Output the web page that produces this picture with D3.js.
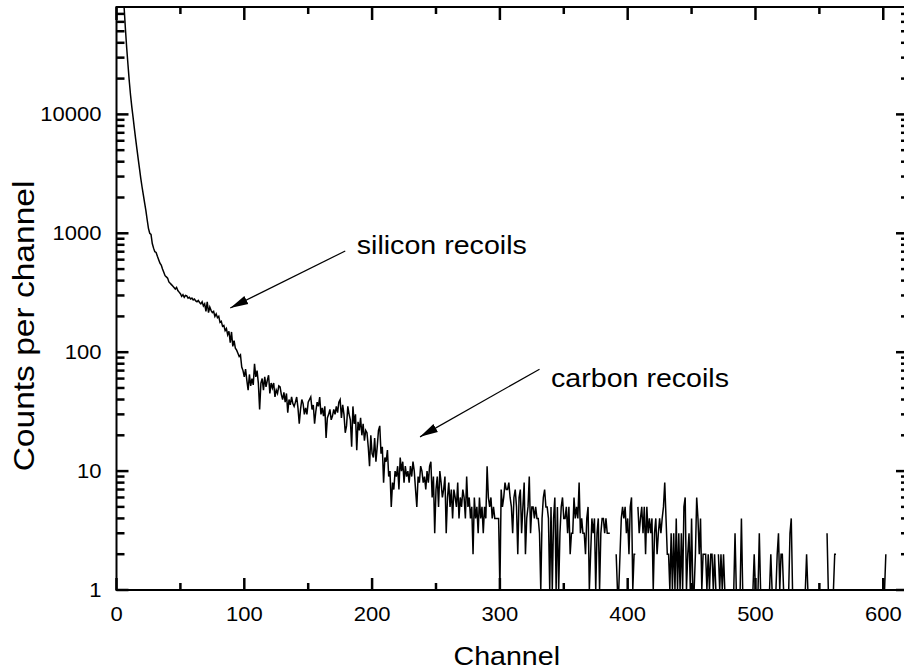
<!DOCTYPE html>
<html>
<head>
<meta charset="utf-8">
<script src="https://cdn.jsdelivr.net/npm/d3@7"></script>
<style>
  body { margin: 0; background: #fff; }
  text { font-family: "Liberation Sans", Arial, Helvetica, sans-serif; fill: #000; }
</style>
</head>
<body>
<svg id="chart" width="904" height="670"></svg>
<script>
// counts per channel, first entry is channel 5 (0 = empty channel)
var firstChannel = 5;
var counts = [
  95000, 78000, 52000, 36000, 26000,
  19000, 14500, 11500, 9400, 7600, 6200, 5100, 4200, 3500, 2900,   // 10
  2450, 2100, 1800, 1550, 1300, 1100, 1000, 980, 820, 750,          // 20
  700, 690, 640, 600, 560, 540, 500, 470, 440, 430,                 // 30
  420, 390, 380, 370, 360, 350, 340, 350, 330, 320,                 // 40
  310, 295, 305, 290, 300, 298, 285, 290, 280, 285,                 // 50
  275, 280, 270, 265, 272, 262, 255, 265, 245, 255,                 // 60
  220, 265, 215, 240, 225, 215, 220, 200, 210, 195,                 // 70
  200, 178, 182, 165, 168, 152, 158, 140, 150, 120,                 // 80
  148, 112, 125, 108, 104, 98, 92, 95, 75, 70,                      // 90
  62, 72, 58, 48, 65, 52, 60, 53, 80, 62,                           // 100
  70, 55, 33, 55, 60, 48, 62, 51, 58, 64,                           // 110
  45, 55, 50, 55, 42, 48, 45, 52, 51, 44,                           // 120
  40, 46, 38, 45, 31, 40, 36, 42, 37, 35,                           // 130
  38, 42, 34, 25, 33, 40, 37, 30, 34, 30,                           // 140
  38, 40, 42, 33, 36, 25, 32, 38, 35, 42,                           // 150
  30, 34, 29, 35, 19, 28, 30, 33, 27, 29,                           // 160
  33, 30, 35, 31, 38, 40, 28, 36, 30, 21,                           // 170
  24, 35, 30, 27, 16, 35, 25, 30, 15, 26,                           // 180
  22, 28, 20, 25, 18, 22, 21, 16, 11, 20,                           // 190
  14, 13, 19, 12, 16, 22, 24, 14, 16, 8,                            // 200
  13, 12, 15, 9, 10, 5, 8, 7, 10, 9,                                // 210
  11, 7, 13, 10, 12, 8, 11, 9, 10, 8,                               // 220
  11, 9, 12, 10, 7, 5, 9, 8, 11, 10,                                // 230
  8, 9, 7, 10, 8, 11, 12, 6, 9, 3,                                  // 240
  7, 9, 5, 10, 8, 6, 7, 9, 3, 6,                                    // 250
  8, 5, 7, 4, 7, 6, 5, 8, 4, 6,                                     // 260
  5, 7, 6, 4, 9, 5, 6, 4, 5, 2,                                     // 270
  6, 4, 5, 3, 6, 4, 5, 3, 5, 4,                                     // 280
  11, 6, 5, 6, 4, 5, 4, 4, 4, 4,                                    // 290
  1, 7, 5, 6, 8, 7, 7, 8, 6, 5,                                     // 300
  3, 6, 7, 5, 2, 6, 7, 3, 5, 8,                                     // 310
  2, 4, 5, 9, 3, 5, 5, 4, 5, 4,                                     // 320
  4, 3, 1, 4, 6, 7, 5, 5, 4, 1,                                     // 330
  5, 1, 4, 6, 1, 5, 1, 3, 5, 6,                                     // 340
  4, 4, 5, 3, 5, 2, 3, 3, 6, 4,                                     // 350
  5, 4, 8, 3, 4, 3, 3, 2, 4, 5,                                     // 360
  1, 2, 4, 3, 4, 1, 3, 4, 1, 3,                                     // 370
  4, 4, 3, 4, 3, 3, 3, 0, 0, 0,                                     // 380
  0, 2, 1, 1, 2, 4, 5, 4, 5, 3,                                     // 390
  4, 2, 5, 6, 1, 2, 2, 0, 5, 3,                                     // 400
  4, 5, 3, 5, 2, 5, 3, 4, 3, 4,                                     // 410
  1, 3, 4, 2, 3, 4, 3, 4, 5, 8,                                     // 420
  4, 2, 2, 1, 3, 1, 3, 1, 4, 1,                                     // 430
  3, 1, 3, 1, 5, 6, 1, 2, 3, 1,                                     // 440
  4, 1, 1, 2, 6, 4, 2, 4, 1, 2,                                     // 450
  2, 2, 1, 2, 1, 2, 2, 1, 2, 1,                                     // 460
  0, 2, 1, 2, 1, 2, 1, 0, 0, 0,                                     // 470
  0, 0, 0, 1, 3, 1, 0, 0, 1, 4,                                     // 480
  1, 0, 0, 0, 0, 0, 0, 0, 1, 2,                                     // 490
  1, 0, 1, 3, 1, 0, 0, 0, 0, 0,                                     // 500
  0, 1, 2, 1, 0, 0, 1, 2, 3, 1,                                     // 510
  2, 2, 1, 0, 0, 0, 1, 3, 4, 1,                                     // 520
  0, 0, 0, 0, 0, 0, 0, 0, 0, 1,                                     // 530
  2, 1, 0, 0, 0, 0, 0, 0, 0, 0,                                     // 540
  0, 0, 0, 0, 0, 0, 3, 1, 0, 0,                                     // 550
  0, 1, 2, 2, 0, 0, 0, 0, 0, 0,                                     // 560
  0, 0, 0, 0, 0, 0, 0, 0, 0, 0,                                     // 570
  0, 0, 0, 0, 0, 0, 0, 0, 0, 0,                                     // 580
  0, 0, 0, 0, 0, 0, 0, 0, 0, 0,                                     // 590
  0, 1, 2, 0                                                        // 600
];

var xTicks = [0, 100, 200, 300, 400, 500, 600];
var xMinorTicks = [50, 150, 250, 350, 450, 550];
var yTicks = [1, 10, 100, 1000, 10000];

var xTitle = "Channel";
var yTitle = "Counts per channel";

var notes = [
  { text: "silicon recoils", tx: 188, ty: 670, fromCh: 179, fromN: 710, toCh: 89, toN: 235 },
  { text: "carbon recoils", tx: 340, ty: 51, fromCh: 331, fromN: 72, toCh: 237.5, toN: 19.4 }
];

var data = counts.map(function (c, i) {
  return { ch: firstChannel + i, n: c };
});

var svg = d3.select("#chart");
var width = +svg.attr("width");
var height = +svg.attr("height");

var x = d3.scaleLinear().domain([0, 617]).range([116.5, width + 1]);
var y = d3.scaleLog().domain([1, 80000]).range([height - 80, 7]);

var x0 = x.range()[0], x1 = x.range()[1];
var y0 = y.range()[0], y1 = y.range()[1];

var yMinor = [];
yTicks.forEach(function (t) {
  for (var k = 2; k <= 9; k++) yMinor.push(t * k);
});
yMinor = yMinor.filter(function (v) { return v < 80000; });

// text in the source is slightly wider than tall
var sx = 1.1;

var line = d3.line()
  .defined(function (d) { return d.n > 0; })
  .x(function (d) { return x(d.ch); })
  .y(function (d) { return y(d.n); });

svg.append("clipPath")
  .attr("id", "clip")
  .append("rect")
  .attr("x", x0).attr("y", y1)
  .attr("width", x1 - x0).attr("height", y0 - y1);

svg.append("path")
  .datum(data)
  .attr("clip-path", "url(#clip)")
  .attr("fill", "none")
  .attr("stroke", "#000")
  .attr("stroke-width", 1.5)
  .attr("d", line);

// frame
svg.append("path")
  .attr("d", "M" + x0 + "," + y1 + "V" + y0 + "H" + x1 + "V" + y1 + "Z")
  .attr("fill", "none")
  .attr("stroke", "#000")
  .attr("stroke-width", 2);

// inward tick marks on all four sides
function ticks(values, cls, len, side) {
  svg.selectAll("line." + cls)
    .data(values)
    .enter()
    .append("line")
    .attr("class", cls)
    .attr("stroke", "#000")
    .attr("stroke-width", 2.5)
    .attr("x1", function (d) {
      if (side == "bottom" || side == "top") return x(d);
      return side == "left" ? x0 : x1;
    })
    .attr("x2", function (d) {
      if (side == "bottom" || side == "top") return x(d);
      return side == "left" ? x0 + len : x1 - len;
    })
    .attr("y1", function (d) {
      if (side == "left" || side == "right") return y(d);
      return side == "bottom" ? y0 : y1;
    })
    .attr("y2", function (d) {
      if (side == "left" || side == "right") return y(d);
      return side == "bottom" ? y0 - len : y1 + len;
    });
}

ticks(xTicks, "xb", 12, "bottom");
ticks(xMinorTicks, "xbm", 7, "bottom");
ticks(xTicks, "xt", 13, "top");
ticks(xMinorTicks, "xtm", 7, "top");
ticks(yTicks, "yl", 12, "left");
ticks(yMinor, "ylm", 8, "left");
ticks(yTicks, "yr", 9, "right");
ticks(yMinor, "yrm", 4, "right");

// tick labels
svg.selectAll("text.xlab")
  .data(xTicks)
  .enter()
  .append("text")
  .attr("class", "xlab")
  .attr("transform", function (d) {
    return "translate(" + x(d) + "," + (y0 + 31) + ") scale(" + sx + ",1)";
  })
  .attr("text-anchor", "middle")
  .style("font-size", "20px")
  .text(function (d) { return d; });

svg.selectAll("text.ylab")
  .data(yTicks)
  .enter()
  .append("text")
  .attr("class", "ylab")
  .attr("transform", function (d) {
    return "translate(" + (x0 - 15) + "," + (y(d) + 7) + ") scale(" + sx + ",1)";
  })
  .attr("text-anchor", "end")
  .style("font-size", "20px")
  .text(d3.format("d"));

// axis titles
svg.append("text")
  .attr("transform", "translate(" + ((x0 + x1) / 2 - 4) + ",665) scale(" + sx + ",1)")
  .attr("text-anchor", "middle")
  .style("font-size", "26px")
  .text(xTitle);

svg.append("text")
  .attr("transform", "translate(34,326) rotate(-90) scale(1.29," + sx + ")")
  .attr("text-anchor", "middle")
  .style("font-size", "26px")
  .text(yTitle);

// arrows
svg.append("defs").append("marker")
  .attr("id", "head")
  .attr("markerUnits", "userSpaceOnUse")
  .attr("viewBox", "0 -5 18 10")
  .attr("refX", 18).attr("refY", 0)
  .attr("markerWidth", 18).attr("markerHeight", 10)
  .attr("orient", "auto")
  .append("path")
  .attr("d", "M0,-4.5L18,0L0,4.5Z")
  .attr("fill", "#000");

svg.selectAll("line.note")
  .data(notes)
  .enter()
  .append("line")
  .attr("class", "note")
  .attr("x1", function (d) { return x(d.fromCh); })
  .attr("y1", function (d) { return y(d.fromN); })
  .attr("x2", function (d) { return x(d.toCh); })
  .attr("y2", function (d) { return y(d.toN); })
  .attr("stroke", "#000")
  .attr("stroke-width", 1.2)
  .attr("marker-end", "url(#head)");

svg.selectAll("text.note")
  .data(notes)
  .enter()
  .append("text")
  .attr("class", "note")
  .attr("transform", function (d) {
    return "translate(" + x(d.tx) + "," + y(d.ty) + ") scale(" + sx + ",1)";
  })
  .style("font-size", "26px")
  .text(function (d) { return d.text; });
</script>
</body>
</html>
